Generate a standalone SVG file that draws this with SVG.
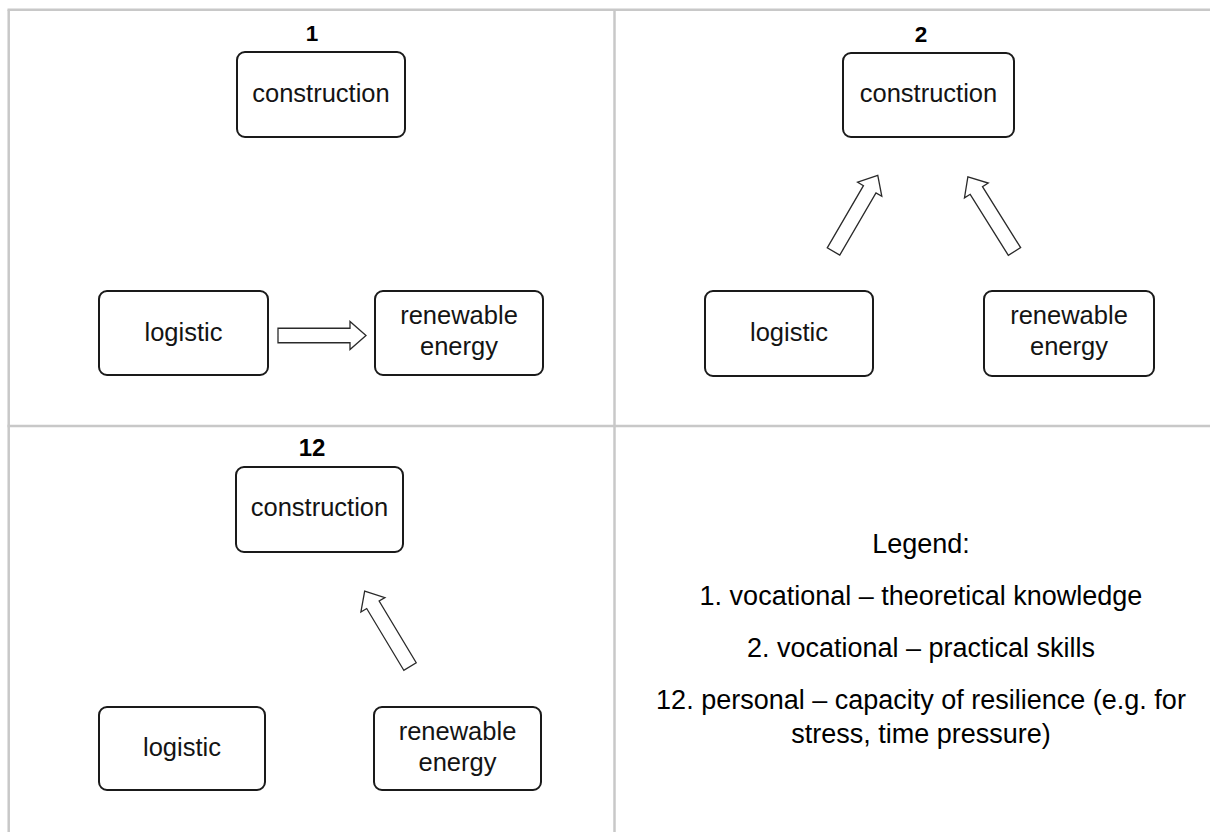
<svg xmlns="http://www.w3.org/2000/svg" xmlns:xlink="http://www.w3.org/1999/xlink" width="1210" height="832" viewBox="0 0 1210 832">
  <style>
    .grid { stroke: #c8c8c8; stroke-width: 2.5; fill: none; }
    .box { fill: #ffffff; stroke: #1a1a1a; stroke-width: 2; }
    .lbl { font-family: "Liberation Sans", Arial, sans-serif; font-size: 25.5px; fill: #141414; text-anchor: middle; }
    .num { font-family: "Liberation Sans", Arial, sans-serif; font-weight: bold; font-size: 22.5px; fill: #000000; text-anchor: middle; }
    .legend { font-family: "Liberation Sans", Arial, sans-serif; font-size: 27px; fill: #000000; text-anchor: middle; }
    .blk { fill: #ffffff; stroke: #2a2a2a; stroke-width: 1.3; stroke-linejoin: miter; }
  </style>
  <defs>
    <!-- block arrow pointing along +x, tail centre at the origin -->
    <path id="blockArrow" class="blk" d="M0,-7.25 H72 V-14 L88,0 L72,14 V7.25 H0 Z"/>
  </defs>

  <rect width="1210" height="832" fill="#ffffff"/>

  <!-- table grid -->
  <g id="grid">
    <line class="grid" x1="7.5" y1="9.8" x2="1210" y2="9.8"/>
    <line class="grid" x1="8.7" y1="9.8" x2="8.7" y2="832"/>
    <line class="grid" x1="614.5" y1="9.8" x2="614.5" y2="832"/>
    <line class="grid" x1="7.5" y1="426" x2="1210" y2="426"/>
  </g>

  <!-- panel numbers -->
  <g id="panel-labels">
    <text class="num" x="312" y="41">1</text>
    <text class="num" x="921" y="42">2</text>
    <text class="num" x="312" y="456" style="font-size:24px">12</text>
  </g>

  <!-- panel 1 -->
  <g id="p1-construction">
    <rect class="box" x="237" y="52" width="168" height="85" rx="8"/>
    <text class="lbl" x="321" y="102">construction</text>
  </g>
  <g id="p1-logistic">
    <rect class="box" x="99" y="291" width="169" height="84" rx="8"/>
    <text class="lbl" x="183.5" y="341">logistic</text>
  </g>
  <g id="p1-renewable">
    <rect class="box" x="375" y="291" width="168" height="84" rx="8"/>
    <text class="lbl" x="459" y="324">renewable</text>
    <text class="lbl" x="459" y="355">energy</text>
  </g>

  <!-- panel 2 -->
  <g id="p2-construction">
    <rect class="box" x="843" y="53" width="171" height="84" rx="8"/>
    <text class="lbl" x="928.5" y="102">construction</text>
  </g>
  <g id="p2-logistic">
    <rect class="box" x="705" y="291" width="168" height="85" rx="8"/>
    <text class="lbl" x="789" y="341">logistic</text>
  </g>
  <g id="p2-renewable">
    <rect class="box" x="984" y="291" width="170" height="85" rx="8"/>
    <text class="lbl" x="1069" y="324">renewable</text>
    <text class="lbl" x="1069" y="355">energy</text>
  </g>

  <!-- panel 3 -->
  <g id="p3-construction">
    <rect class="box" x="236" y="467" width="167" height="85" rx="8"/>
    <text class="lbl" x="319.5" y="516">construction</text>
  </g>
  <g id="p3-logistic">
    <rect class="box" x="99" y="707" width="166" height="83" rx="8"/>
    <text class="lbl" x="182" y="756">logistic</text>
  </g>
  <g id="p3-renewable">
    <rect class="box" x="374" y="707" width="167" height="83" rx="8"/>
    <text class="lbl" x="457.5" y="740">renewable</text>
    <text class="lbl" x="457.5" y="771">energy</text>
  </g>

  <!-- connectors -->
  <g id="connectors">
    <use xlink:href="#blockArrow" href="#blockArrow" transform="translate(278,335.5)"/>
    <use xlink:href="#blockArrow" href="#blockArrow" transform="translate(833.5,251.5) rotate(-59.8)"/>
    <use xlink:href="#blockArrow" href="#blockArrow" transform="translate(1014.5,251.5) rotate(-122)"/>
    <use xlink:href="#blockArrow" href="#blockArrow" transform="translate(410,666.5) rotate(-121)"/>
  </g>

  <!-- legend -->
  <g id="legend">
    <text class="legend" x="921" y="553">Legend:</text>
    <text class="legend" x="921" y="605">1. vocational – theoretical knowledge</text>
    <text class="legend" x="921" y="657">2. vocational – practical skills</text>
    <text class="legend" x="921" y="709">12. personal – capacity of resilience (e.g. for</text>
    <text class="legend" x="921" y="743">stress, time pressure)</text>
  </g>
</svg>
